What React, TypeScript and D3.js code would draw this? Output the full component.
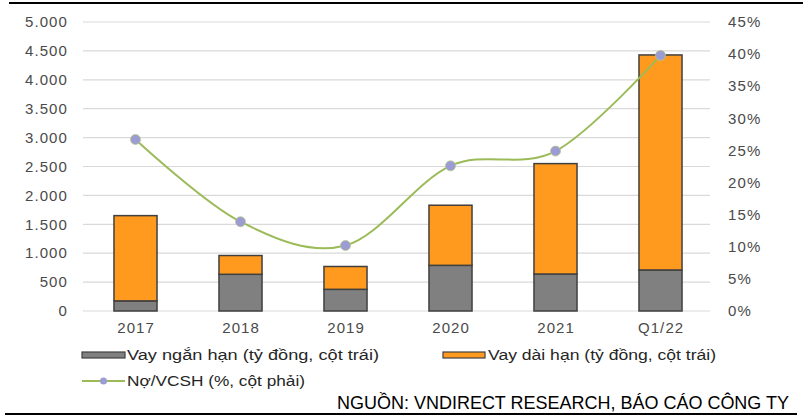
import React from "react";
import * as d3 from "d3";

const categories = ["2017", "2018", "2019", "2020", "2021", "Q1/22"];
const shortTerm = [175, 635, 375, 790, 640, 710];
const longTerm = [1475, 325, 395, 1040, 1910, 3720];
const debtToEquity = [26.7, 13.9, 10.2, 22.6, 24.9, 39.8];
const leftTicks = [0, 500, 1000, 1500, 2000, 2500, 3000, 3500, 4000, 4500, 5000];
const rightTicks = [0, 5, 10, 15, 20, 25, 30, 35, 40, 45];

const W = 810;
const H = 420;
const plot = { left: 83, right: 713, top: 22, bottom: 311 };
const font = "'Liberation Sans', Arial, sans-serif";
const narrow = "'Liberation Sans Narrow', 'Arial Narrow', 'Liberation Sans', sans-serif";

const GRAY = "#808080";
const ORANGE = "#FF9A1F";
const LINE = "#9BBB59";
const MARK = "#9C9CD4";

export default function App() {
  const x = d3.scaleBand().domain(categories).range([plot.left, plot.right]).paddingInner(0.59).paddingOuter(0.295);
  const yL = d3.scaleLinear().domain([0, 5000]).range([plot.bottom, plot.top]);
  const yR = d3.scaleLinear().domain([0, 45]).range([plot.bottom, plot.top]);
  const fmt = (v: number) => d3.format(",")(v).replace(/,/g, ".");

  const line = d3
    .line<number>()
    .x((_, i) => x(categories[i])! + x.bandwidth() / 2)
    .y((d) => yR(d))
    .curve(d3.curveCatmullRom.alpha(0));

  const tickStyle = { fontFamily: font, fontSize: 15, fill: "#4a4a4a", letterSpacing: 1.1 };

  return (
    <svg width={W} height={H} style={{ position: "absolute", left: 0, top: 0, background: "#fff" }}>
      <line x1={9} x2={803} y1={3} y2={3} stroke="#000" strokeWidth={2} />

      {leftTicks.map((t) => (
        <g key={"l" + t}>
          <line x1={plot.left} x2={plot.right - 3} y1={yL(t)} y2={yL(t)} stroke="#d9d9d9" strokeWidth={1.2} />
          <text x={68} y={yL(t)} dy="0.35em" textAnchor="end" {...tickStyle}>
            {fmt(t)}
          </text>
        </g>
      ))}
      {rightTicks.map((t) => (
        <text key={"r" + t} x={728} y={yR(t)} dy="0.35em" {...tickStyle}>
          {t}%
        </text>
      ))}

      {categories.map((c, i) => {
        const bx = x(c)!;
        const bw = x.bandwidth();
        return (
          <g key={c}>
            <rect x={bx} y={yL(shortTerm[i])} width={bw} height={yL(0) - yL(shortTerm[i])} fill={GRAY} stroke="#404040" strokeWidth={1.5} />
            <rect
              x={bx}
              y={yL(shortTerm[i] + longTerm[i])}
              width={bw}
              height={yL(shortTerm[i]) - yL(shortTerm[i] + longTerm[i])}
              fill={ORANGE}
              stroke="#404040"
              strokeWidth={1.5}
            />
            <text x={bx + bw / 2 + 0.6} y={328} dy="0.35em" textAnchor="middle" {...tickStyle}>
              {c}
            </text>
          </g>
        );
      })}

      <path d={line(debtToEquity) || ""} fill="none" stroke={LINE} strokeWidth={2} />
      {debtToEquity.map((v, i) => (
        <circle key={i} cx={x(categories[i])! + x.bandwidth() / 2} cy={yR(v)} r={5} fill={MARK} stroke="#b8c88a" strokeWidth={0.8} />
      ))}

      {/* legend */}
      <rect x={82} y={352} width={43} height={6} fill={GRAY} stroke="#404040" strokeWidth={1.2} />
      <text x={127} y={355} dy="0.35em" fontFamily={font} fontSize={15.5} fill="#262626" textLength={252} lengthAdjust="spacingAndGlyphs">
        Vay ngắn hạn (tỷ đồng, cột trái)
      </text>
      <rect x={443} y={352} width={42} height={6} fill={ORANGE} stroke="#404040" strokeWidth={1.2} />
      <text x={488} y={355} dy="0.35em" fontFamily={font} fontSize={15.5} fill="#262626" textLength={228} lengthAdjust="spacingAndGlyphs">
        Vay dài hạn (tỷ đồng, cột trái)
      </text>
      <line x1={82} x2={125} y1={381} y2={381} stroke={LINE} strokeWidth={2} />
      <circle cx={103.5} cy={381} r={3.5} fill={MARK} />
      <text x={127} y={381} dy="0.35em" fontFamily={font} fontSize={15.5} fill="#262626" textLength={178} lengthAdjust="spacingAndGlyphs">
        Nợ/VCSH (%, cột phải)
      </text>

      <text x={337} y={409} fontFamily={narrow} fontSize={18} fill="#000" textLength={452} lengthAdjust="spacingAndGlyphs">
        NGUỒN: VNDIRECT RESEARCH, BÁO CÁO CÔNG TY
      </text>
      <line x1={5} x2={797} y1={414} y2={414} stroke="#000" strokeWidth={2} />
    </svg>
  );
}
